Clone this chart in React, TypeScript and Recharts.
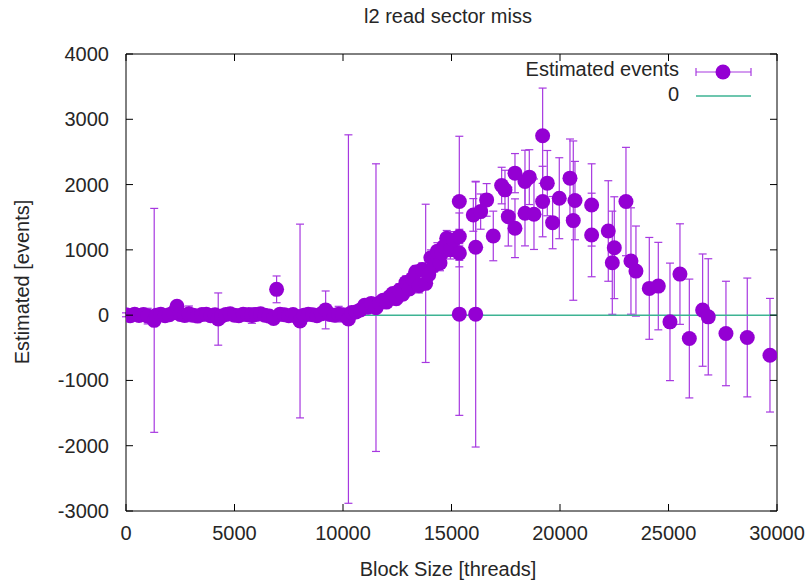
import { ComposedChart, Scatter, ErrorBar, Line, XAxis, YAxis, ReferenceLine } from "recharts";

// flat part, block sizes up to ~10k
const flatX = [0, 200, 400, 600, 800, 1000, 1300, 1400, 1600, 1800, 2000, 2200, 2350, 2500, 2700, 2900, 3100, 3300, 3500, 3700, 3900, 4100, 4250, 4400, 4600, 4800, 5000, 5200, 5400, 5600, 5800, 6000, 6200, 6400, 6600, 6800, 6940, 7100, 7300, 7500, 7700, 7850, 8020, 8200, 8400, 8600, 8800, 9000, 9200, 9400, 9600, 9800, 10000, 10250, 10400];
const flatY = [5, -10, 15, -5, 10, -15, -80, 0, 15, -10, 5, 40, 135, 10, -5, 20, 0, -15, 10, 15, -10, 5, -60, -15, 10, 20, 0, -10, 15, 5, -5, 10, 20, 0, -15, -50, 395, 15, 5, -10, 10, -20, -90, 0, 15, 5, -10, 20, 80, 10, 0, 15, 5, -60, 40];
const flatErr = [30, 25, 30, 20, 35, 120, 1715, 40, 30, 25, 30, 40, 50, 30, 25, 120, 30, 25, 30, 40, 30, 35, 400, 30, 25, 30, 35, 30, 25, 30, 120, 30, 25, 30, 40, 40, 205, 30, 35, 30, 25, 30, 1484, 30, 35, 30, 25, 40, 290, 35, 30, 120, 40, 2822, 50];

// rising part
const riseX = [10600, 10800, 11000, 11150, 11300, 11520, 11700, 11850, 12000, 12150, 12300, 12450, 12600, 12750, 12900, 13050, 13200, 13350, 13500, 13650, 13810, 13950, 14050, 14200, 14350, 14470, 14550, 14650, 14780, 14950, 15100];
const riseY = [50, 80, 150, 120, 180, 115, 190, 230, 200, 280, 330, 250, 380, 320, 500, 400, 560, 660, 450, 700, 487, 620, 880, 760, 980, 800, 947, 1050, 1177, 1000, 1150];
const riseErr = [60, 50, 70, 60, 80, 2203, 60, 70, 60, 80, 70, 90, 100, 90, 100, 90, 110, 100, 110, 100, 1212, 110, 120, 100, 130, 120, 100, 110, 120, 140, 130];

// peak and tail
const peakX = [15360, 15360, 15360, 15360, 16005, 16114, 16114, 16343, 16620, 16925, 17311, 17464, 17618, 17925, 17925, 18386, 18386, 18585, 18801, 19200, 19200, 19414, 19660, 19967, 20460, 20612, 20690, 21458, 21458, 22225, 22410, 22502, 23040, 23270, 23500, 24115, 24530, 25068, 25528, 25960, 26573, 26833, 27648, 28630, 29676];
const peakY = [1740, 1205, 950, 15, 1535, 1040, 15, 1586, 1765, 1213, 1985, 1919, 1509, 2175, 1331, 2046, 1561, 2114, 1546, 1740, 2748, 2022, 1417, 1791, 2098, 1448, 1755, 1688, 1228, 1289, 803, 1033, 1740, 829, 675, 410, 445, -103, 629, -358, 77, -26, -281, -342, -614];
const peakErr = [1000, 110, 110, 1550, 250, 1000, 2035, 270, 250, 380, 280, 300, 450, 300, 450, 480, 500, 420, 540, 540, 730, 500, 400, 620, 600, 1220, 600, 630, 640, 770, 790, 780, 830, 815, 690, 780, 670, 900, 770, 910, 860, 890, 800, 910, 870];

const zeroX = [0, 30000];
const zeroY = [0, 0];

const xTicks = [0, 5000, 10000, 15000, 20000, 25000, 30000];
const yTicks = [-3000, -2000, -1000, 0, 1000, 2000, 3000, 4000];
const seriesNames = ["Estimated events", "0"];

const blockSizes = [...flatX, ...riseX, ...peakX];
const estimated = [...flatY, ...riseY, ...peakY];
const errors = [...flatErr, ...riseErr, ...peakErr];

const points = blockSizes.map((x, i) => ({ x, y: estimated[i], err: errors[i] }));
const zeroLine = zeroX.map((x, i) => ({ x, y: zeroY[i] }));

const FONT = "'Liberation Sans', Arial, sans-serif";
const FS = 20;
const PURPLE = "#9400d3";
const BAR = "#a738e0";
const TEAL = "#3db393";
const TXT = "#262626";
const PLOT = { left: 126, top: 54, right: 777, bottom: 511 };

function XTick({ x, payload }: any) {
  return (
    <g>
      <line x1={x} y1={PLOT.bottom} x2={x} y2={PLOT.bottom - 7} stroke="#000" />
      <line x1={x} y1={PLOT.top} x2={x} y2={PLOT.top + 7} stroke="#000" />
      <text x={x} y={PLOT.bottom + 29} textAnchor="middle" fontSize={FS} fontFamily={FONT} fill={TXT}>
        {payload.value}
      </text>
    </g>
  );
}

function YTick({ y, payload }: any) {
  return (
    <g>
      <line x1={PLOT.left} y1={y} x2={PLOT.left + 7} y2={y} stroke="#000" />
      <line x1={PLOT.right} y1={y} x2={PLOT.right - 7} y2={y} stroke="#000" />
      <text x={PLOT.left - 17} y={y + 7} textAnchor="end" fontSize={FS} fontFamily={FONT} fill={TXT}>
        {payload.value}
      </text>
    </g>
  );
}

const Dot = (p: any) => <circle cx={p.cx} cy={p.cy} r={7.5} fill={PURPLE} />;

export default function App() {
  return (
    <div style={{ position: "absolute", left: 0, top: 0, width: 809, height: 583, background: "#fff" }}>
      <ComposedChart width={809} height={583} margin={{ top: 54, right: 32, bottom: 0, left: 0 }}>
        <XAxis
          type="number"
          dataKey="x"
          domain={[0, 30000]}
          ticks={xTicks}
          allowDataOverflow
          height={72}
          tickSize={0}
          tickMargin={0}
          tickLine={false}
          axisLine={{ stroke: "#000" }}
          tick={XTick}
        />
        <YAxis
          type="number"
          dataKey="y"
          domain={[-3000, 4000]}
          ticks={yTicks}
          allowDataOverflow
          width={126}
          tickSize={0}
          tickMargin={0}
          tickLine={false}
          axisLine={{ stroke: "#000" }}
          tick={YTick}
        />
        <ReferenceLine y={4000} stroke="#000" />
        <ReferenceLine x={30000} stroke="#000" />
        <Scatter data={points} dataKey="y" shape={Dot} isAnimationActive={false}>
          <ErrorBar dataKey="err" direction="y" width={4} stroke={BAR} strokeWidth={1.2} />
        </Scatter>
        <Line data={zeroLine} dataKey="y" stroke={TEAL} strokeWidth={1.5} dot={false} isAnimationActive={false} />
      </ComposedChart>
      <svg width={809} height={583} style={{ position: "absolute", left: 0, top: 0, pointerEvents: "none" }} fontFamily={FONT}>
        <text x={448} y={23} textAnchor="middle" fontSize={FS} fill={TXT}>l2 read sector miss</text>
        <text x={448} y={576} textAnchor="middle" fontSize={FS} fill={TXT}>Block Size [threads]</text>
        <text transform="translate(29,282) rotate(-90)" textAnchor="middle" fontSize={FS} fill={TXT}>Estimated [events]</text>
        <text x={679} y={76} textAnchor="end" fontSize={FS} fill={TXT}>{seriesNames[0]}</text>
        <line x1={696} y1={72} x2={751} y2={72} stroke={BAR} strokeWidth={1.2} />
        <line x1={696} y1={68} x2={696} y2={76} stroke={BAR} strokeWidth={1.2} />
        <line x1={751} y1={68} x2={751} y2={76} stroke={BAR} strokeWidth={1.2} />
        <circle cx={723} cy={72} r={7.5} fill={PURPLE} />
        <text x={679} y={101} textAnchor="end" fontSize={FS} fill={TXT}>{seriesNames[1]}</text>
        <line x1={696} y1={96} x2={751} y2={96} stroke={TEAL} strokeWidth={1.5} />
      </svg>
    </div>
  );
}
